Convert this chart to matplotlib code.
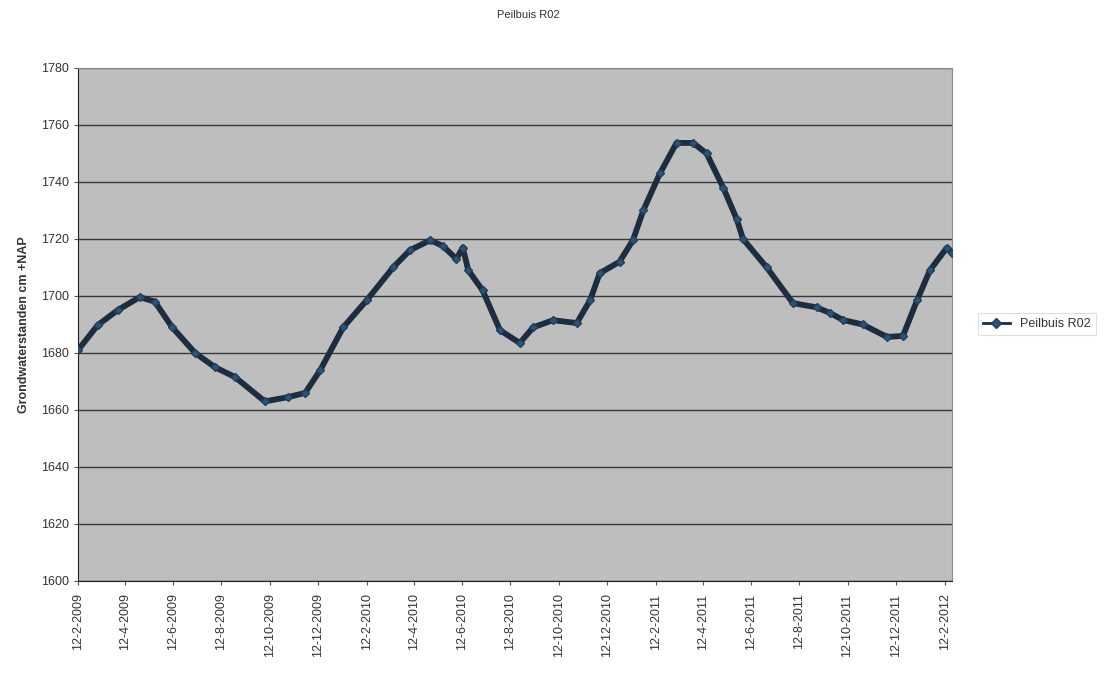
import matplotlib
matplotlib.use("Agg")
import matplotlib.pyplot as plt
import matplotlib.dates as mdates
import matplotlib.ticker as mticker
import pandas as pd

# meetdata peilbuis R02
dates = [
    "2009-02-12", "2009-03-09", "2009-04-03", "2009-05-01", "2009-05-20",
    "2009-06-11", "2009-07-10", "2009-08-04", "2009-08-29", "2009-10-06",
    "2009-11-04", "2009-11-26", "2009-12-15", "2010-01-13", "2010-02-12",
    "2010-03-17", "2010-04-07", "2010-05-03", "2010-05-19", "2010-06-05",
    "2010-06-13", "2010-06-20", "2010-07-08", "2010-07-30", "2010-08-24",
    "2010-09-10", "2010-10-05", "2010-11-04", "2010-11-21", "2010-12-03",
    "2010-12-28", "2011-01-14", "2011-01-27", "2011-02-17", "2011-03-10",
    "2011-03-31", "2011-04-17", "2011-05-08", "2011-05-25", "2011-06-02",
    "2011-07-02", "2011-08-04", "2011-09-03", "2011-09-20", "2011-10-06",
    "2011-10-31", "2011-12-01", "2011-12-21", "2012-01-08", "2012-01-24",
    "2012-02-14", "2012-02-21",
]
levels = [
    1681.0, 1689.8, 1695.0, 1699.6, 1698.0,
    1689.0, 1680.0, 1675.0, 1671.6, 1663.0,
    1664.5, 1666.0, 1674.0, 1689.0, 1698.6,
    1710.0, 1716.0, 1719.6, 1717.5, 1713.0,
    1717.0, 1709.0, 1702.0, 1688.0, 1683.5,
    1689.0, 1691.5, 1690.5, 1698.6, 1708.0,
    1712.0, 1719.6, 1730.0, 1743.0, 1753.7,
    1753.7, 1750.0, 1738.0, 1727.0, 1720.0,
    1710.0, 1697.5, 1696.0, 1694.0, 1691.6,
    1690.0, 1685.6, 1686.0, 1698.6, 1709.0,
    1716.8, 1715.0,
]
series_name = "Peilbuis R02"
y_ticks = list(range(1600, 1781, 20))

x = pd.to_datetime(dates)

plt.rcParams["font.family"] = ["Liberation Sans", "DejaVu Sans"]

fig = plt.figure(figsize=(11.19, 6.75), dpi=100)
ax = fig.add_axes([0.0697, 0.1393, 0.7811, 0.7600])
ax.set_facecolor("#bdbebd")

ax.plot(x, levels, color="#1d2d3f", linewidth=4.2, marker="D", markersize=4.5,
        markerfacecolor="#2c5478", markeredgecolor="#22405e", label=series_name, zorder=3)

ax.set_ylim(1600, 1780)
ax.set_yticks(y_ticks)
ax.set_xlim(pd.Timestamp("2009-02-12"), pd.Timestamp("2012-02-21"))
ax.xaxis.set_major_locator(mdates.MonthLocator(bymonth=[2, 4, 6, 8, 10, 12], bymonthday=12))
ax.xaxis.set_major_formatter(mticker.FuncFormatter(
    lambda v, pos: "{d.day}-{d.month}-{d.year}".format(d=mdates.num2date(v))))

ax.yaxis.grid(True, color="#383838", linewidth=1.0)
ax.set_axisbelow(True)
for side in ["top", "right"]:
    ax.spines[side].set_color("#8a8a8a")
ax.spines["left"].set_color("#202020")
ax.spines["bottom"].set_color("#202020")

ax.tick_params(axis="x", labelrotation=90, labelsize=9, length=3, color="#555555", pad=6)
ax.tick_params(axis="y", labelsize=9, length=3, color="#555555")
for lab in ax.get_xticklabels() + ax.get_yticklabels():
    lab.set_color("#333333")

ax.set_ylabel("Grondwaterstanden cm +NAP", fontsize=9, fontweight="bold", color="#333333", labelpad=8)
fig.suptitle("Peilbuis R02", x=0.472, y=0.985, fontsize=8, color="#333333")

leg = ax.legend(loc="center left", bbox_to_anchor=(1.022, 0.5), fontsize=9, frameon=True,
                fancybox=False, handlelength=2.2, borderpad=0.4)
leg.get_frame().set_edgecolor("#d8d8d8")
leg.get_frame().set_linewidth(0.8)
for ln in leg.get_lines():
    ln.set_linewidth(2)
    ln.set_markersize(5)
for t in leg.get_texts():
    t.set_color("#333333")

fig.savefig("out.png", dpi=100, facecolor="white")
